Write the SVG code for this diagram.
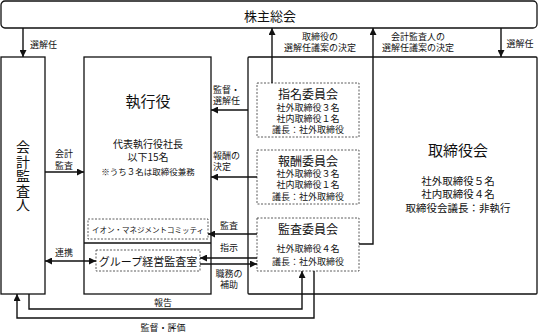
<svg xmlns="http://www.w3.org/2000/svg" width="539" height="332" viewBox="0 0 539 332">
<style>
text{font-family:"Noto Sans CJK JP","Noto Sans CJK SC",sans-serif;fill:#111;dominant-baseline:central;text-anchor:middle}
.box{fill:#fff;stroke:#111;stroke-width:1.3}
.dash{fill:#fff;stroke:#333;stroke-width:0.8;stroke-dasharray:2 1.5}
.c{fill:none;stroke:#111;stroke-width:1.4}
.lb{font-size:9px}
.st{text-anchor:start}
.t15{font-size:15px}
.t12{font-size:12px}
.t9{font-size:9px}
.t10{font-size:10.5px}
</style>
<defs>
<marker id="ah" viewBox="0 0 10 10" refX="10" refY="5" markerWidth="7" markerHeight="7" markerUnits="userSpaceOnUse" orient="auto-start-reverse">
<path d="M0,0 L10,5 L0,10 z" fill="#111"/>
</marker>
</defs>
<g id="n-shareholders">
<rect class="box" x="1" y="1" width="536" height="27" rx="4"/>
<text x="270" y="15" style="font-size:13px">株主総会</text>
</g>
<g id="n-auditor">
<rect class="box" x="1" y="57" width="44" height="237"/>
<text x="23" y="176" style="font-size:14px;writing-mode:vertical-rl;letter-spacing:0.4px">会計監査人</text>
</g>
<g id="n-exec">
<rect class="box" x="84" y="57" width="127" height="237"/>
<line x1="84" y1="243" x2="211" y2="243" stroke="#111" stroke-width="1.3"/>
<text class="t15" x="148" y="100">執行役</text>
<text x="148" y="143" style="font-size:10px">代表執行役社長<tspan x="148" dy="13">以下15名</tspan><tspan x="148" dy="15" style="font-size:8.5px">※うち３名は取締役兼務</tspan></text>
</g>
<g id="n-aeon">
<rect class="dash" x="88" y="219" width="120" height="20"/>
<text x="148" y="229" style="font-size:7.5px">イオン・マネジメントコミッティ</text>
</g>
<g id="n-group">
<rect class="dash" x="96" y="250" width="104" height="21"/>
<text x="148" y="261" style="font-size:11px">グループ経営監査室</text>
</g>
<g id="n-board">
<rect class="box" x="248" y="57" width="289" height="237" rx="1"/>
<text class="t15" x="458" y="149">取締役会</text>
<text class="t10" x="458" y="180">社外取締役５名<tspan x="458" dy="13">社内取締役４名</tspan><tspan x="458" dy="14">取締役会議長：非執行</tspan></text>
</g>
<g id="n-nom">
<rect class="dash" x="257" y="83" width="102" height="54"/>
<text class="t12" x="308" y="93">指名委員会</text>
<text class="t9" x="308" y="107">社外取締役３名<tspan x="308" dy="11">社内取締役１名</tspan><tspan x="308" dy="11">議長：社外取締役</tspan></text>
</g>
<g id="n-comp">
<rect class="dash" x="257" y="150" width="102" height="54"/>
<text class="t12" x="308" y="160">報酬委員会</text>
<text class="t9" x="308" y="173">社外取締役３名<tspan x="308" dy="11">社内取締役１名</tspan><tspan x="308" dy="12">議長：社外取締役</tspan></text>
</g>
<g id="n-audit">
<rect class="dash" x="257" y="218" width="102" height="53"/>
<text class="t12" x="308" y="228">監査委員会</text>
<text class="t9" x="308" y="248">社外取締役４名<tspan x="308" dy="13">議長：社外取締役</tspan></text>
</g>
<g id="connectors">
<path class="c" d="M23,28 V57" marker-end="url(#ah)"/>
<path class="c" d="M501,28 V57" marker-end="url(#ah)"/>
<path class="c" d="M272,83 V28" marker-end="url(#ah)"/>
<path class="c" d="M359,244 H373 V28" marker-end="url(#ah)"/>
<path class="c" d="M248,110 H211" marker-end="url(#ah)"/>
<path class="c" d="M257,177 H211" marker-end="url(#ah)"/>
<path class="c" d="M257,234 H208" marker-end="url(#ah)"/>
<path class="c" d="M257,258 H200" marker-end="url(#ah)"/>
<path class="c" d="M200,264 H257" marker-end="url(#ah)"/>
<path class="c" d="M45,172 H84" marker-end="url(#ah)"/>
<path class="c" d="M45,261 H96" marker-start="url(#ah)" marker-end="url(#ah)"/>
<path class="c" d="M29,294 V309 H302 V271" marker-end="url(#ah)"/>
<path class="c" d="M314,271 V318 H17 V294" marker-end="url(#ah)"/>
</g>
<g id="labels">
<text class="lb st" x="30" y="44">選解任</text>
<text class="lb" x="320" y="36">取締役の<tspan x="320" dy="11">選解任議案の決定</tspan></text>
<text class="lb" x="418" y="36">会計監査人の<tspan x="418" dy="11">選解任議案の決定</tspan></text>
<text class="lb" x="520" y="43">選解任</text>
<text class="lb st" x="213" y="89">監督・<tspan x="213" dy="11">選解任</tspan></text>
<text class="lb st" x="213" y="155">報酬の<tspan x="213" dy="11">決定</tspan></text>
<text class="lb" x="64" y="153">会計<tspan x="64" dy="12">監査</tspan></text>
<text class="lb" x="64" y="252">連携</text>
<text class="lb" x="229" y="225">監査</text>
<text class="lb" x="229" y="247">指示</text>
<text class="lb" x="229" y="273">職務の<tspan x="229" dy="11">補助</tspan></text>
<text class="lb" x="163" y="302">報告</text>
<text class="lb" x="163" y="327">監督・評価</text>
</g>
</svg>
